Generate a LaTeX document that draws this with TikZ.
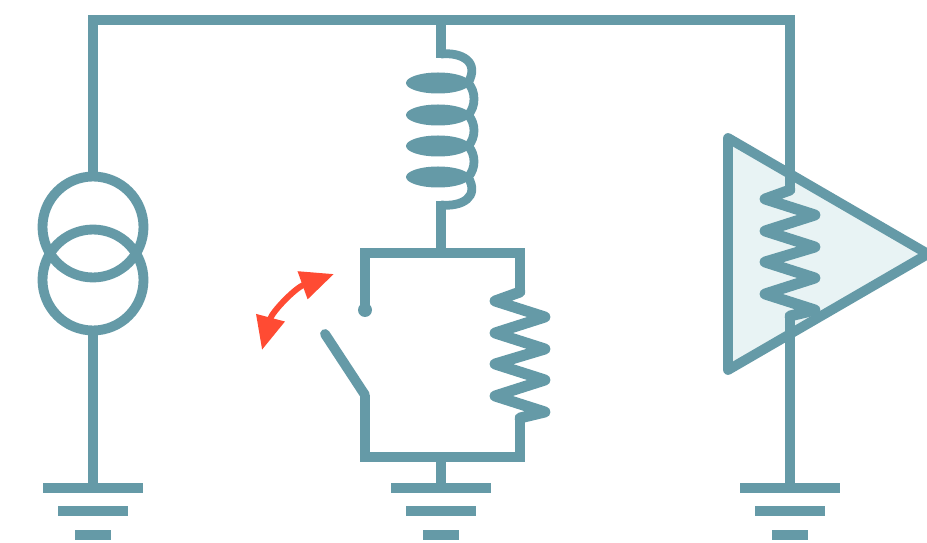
\documentclass[tikz,border=0pt]{standalone}
\usepackage{tikz}
\usetikzlibrary{
  arrows.meta
}
\definecolor{wirecol}{HTML}{659AA7}
\definecolor{tipcol}{HTML}{FF4B33}
\definecolor{ampcol}{HTML}{E8F3F4}
\tikzset{
  wire/.style={draw=wirecol,line width=5.6pt,line join=miter},
  zig/.style={wire,line width=6.2pt,line join=round,line cap=round},
  ring/.style={circle,draw=wirecol,line width=5.6pt,minimum size=2.02cm,inner sep=0pt},
  ground/.pic={
    \draw[wire] (-50,0) -- (50,0);
    \draw[wire] (-35,23) -- (35,23);
    \draw[wire] (-18,47) -- (18,47);
  },
  zigzag/.pic={
    \draw[zig] (0,0) -- (-25,9) -- (25,25) -- (-25,41) -- (25,57) -- (-25,72)
      -- (25,88) -- (-25,104) -- (25,120) -- (0,126);
  },
}
\begin{document}
\begin{tikzpicture}[x=0.02cm,y=-0.02cm]
\useasboundingbox (0,0) rectangle (927,543);
% rail and grounds
\coordinate (railL) at (93,20);
\coordinate (railM) at (441,20);
\coordinate (railR) at (790,20);
\coordinate (gndL) at (93,488);
\coordinate (gndM) at (441,488);
\coordinate (gndR) at (790,488);
\pic at (gndL) {ground};
\pic at (gndM) {ground};
\pic at (gndR) {ground};
% current source
\node[ring] (srcA) at (93,227) {};
\node[ring] (srcB) at (93,280) {};
\draw[wire] (srcA.north) -- (railL) -- (railR) -- (790,190);
\draw[wire] (srcB.south) -- (gndL);
% coil
\coordinate (coilT) at (441,54);
\coordinate (coilB) at (441,205);
\coordinate (boxT) at (441,253);
\coordinate (boxB) at (441,457);
\draw[wire] (railM) -- ([yshift=-2pt]coilT);
\draw[wire] ([yshift=2pt]coilB) -- (boxT);
\draw[wire] (boxB) -- (gndM);
\draw[wire,line width=5pt] (coilT) .. controls (462,52) and (480,62) .. (468,83);
\draw[wire,line width=5pt] (coilB) .. controls (462,207) and (480,197) .. (468,177);
\foreach \ytop/\ybot in {83/115,115/146,146/177}
  \draw[wire,line width=5pt] (468,\ytop) .. controls (476,\ytop+8) and (476,\ybot-8) .. (468,\ybot);
\foreach \yc in {83,115,146,177}
  \fill[wirecol] (438,\yc) ellipse (32 and 10.5);
% switch and resistor box
\coordinate (swT) at (365,310);
\coordinate (swB) at (365,395);
\coordinate (swE) at (325,334);
\coordinate (resT) at (520,292);
\coordinate (resB) at (520,418);
\draw[wire] (swT) -- (365,253) -- (520,253) -- (resT);
\draw[wire] (swB) -- (365,457) -- (520,457) -- (resB);
\fill[wirecol] (swT) circle (7);
\draw[wire,line cap=round] (swB) -- (swE);
\pic at (resT) {zigzag};
% amplifier
\draw[wire,fill=ampcol,line join=round] (728,138) -- (928,254) -- (728,370) -- cycle;
\draw[wire] (railR) -- (790,190);
\draw[wire] (790,316) -- (gndR);
\pic at (790,190) {zigzag};
% motion arrow
\draw[tipcol,line width=3.4pt,{Triangle[width=16pt,length=19pt]}-{Triangle[width=16pt,length=19pt]}]
  (262,350) .. controls (272,312) and (295,288) .. (334,274);
\end{tikzpicture}
\end{document}
